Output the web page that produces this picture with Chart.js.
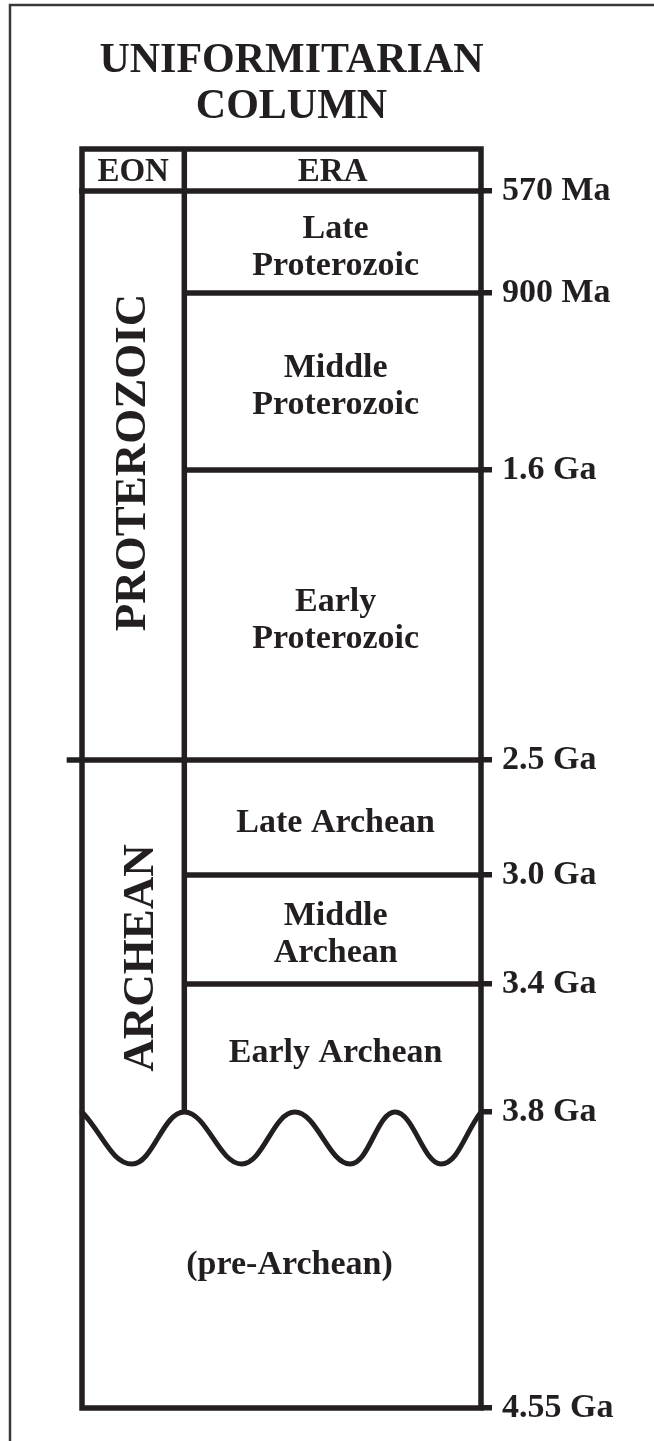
<!DOCTYPE html>
<html>
<head>
<meta charset="utf-8">
<title>Uniformitarian Column</title>
<script src="https://cdn.jsdelivr.net/npm/chart.js@4.4.1/dist/chart.umd.min.js"></script>
<style>
  html,body{margin:0;padding:0;background:#fff;}
  #wrap{position:relative;width:654px;height:1441px;}
</style>
</head>
<body>
<div id="wrap"><canvas id="column"></canvas></div>
<script>
// -------- DATA ----------
// boundaries down the column (position is schematic, the drawing is not to scale)
const boundaryLabels = ['570 Ma','900 Ma','1.6 Ga','2.5 Ga','3.0 Ga','3.4 Ga','3.8 Ga','4.55 Ga'];
const boundaryPos    = [0, 102, 279, 569, 684, 793, 921, 1217];
const boundaryKind   = ['header','era','era','eon','era','era','unconformity','base'];
const headerTop      = -42;

const eraNames = [
  ['Late','Proterozoic'],
  ['Middle','Proterozoic'],
  ['Early','Proterozoic'],
  ['Late Archean'],
  ['Middle','Archean'],
  ['Early Archean'],
  ['(pre-Archean)']
];
const eonNames = ['PROTEROZOIC','ARCHEAN'];
const eonFrom  = [0, 3];   // boundary index where each eon starts
const eonTo    = [3, 6];   // boundary index where each eon ends

// column widths in x units: EON 0..1, ERA 1..3.9
const eonCol = [0, 1];
const eraCol = [1, 3.9];

// unconformity wave (x in column units, y in column position)
const waveX = [0, 0.49, 1, 1.56, 2.08, 2.62, 3.06, 3.51, 3.9];
const waveY = [921, 973, 921, 973, 921, 973, 921, 973, 921];

// -------- STYLE ----------
const ink   = '#231f20';
const serif = '"Liberation Serif", "Times New Roman", Times, serif';
const LW    = 5.5;

// -------- DATASETS ----------
const seg = (pts, extra) => Object.assign({
  data: pts, borderColor: ink, borderWidth: LW, pointRadius: 0,
  tension: 0, clip: false, fill: false,
  borderCapStyle: 'square', borderJoinStyle: 'miter'
}, extra || {});

const left = eonCol[0], right = eraCol[1];
const bottom = boundaryPos[boundaryPos.length - 1];
const datasets = [];

// outline of the column
datasets.push(seg([
  {x:left,y:headerTop},{x:right,y:headerTop},{x:right,y:bottom},{x:left,y:bottom},{x:left,y:headerTop}
]));

// EON | ERA divider, down to the unconformity
const unconf = boundaryPos[boundaryKind.indexOf('unconformity')];
datasets.push(seg([{x:eraCol[0],y:headerTop},{x:eraCol[0],y:unconf}], {borderCapStyle:'butt'}));

// boundary lines
boundaryKind.forEach((k, i) => {
  const y = boundaryPos[i];
  if (k === 'header') datasets.push(seg([{x:left,y},{x:right,y}]));
  if (k === 'era')    datasets.push(seg([{x:eraCol[0],y},{x:right,y}], {borderCapStyle:'butt'}));
  if (k === 'eon')    datasets.push(seg([{x:left-0.15,y},{x:right,y}], {borderCapStyle:'butt'}));
});

// wavy unconformity
datasets.push(seg(waveX.map((x, i) => ({x, y: waveY[i]})), {
  tension: 0.4, borderWidth: 5, borderCapStyle: 'round', borderJoinStyle: 'round'
}));

// -------- TEXT PLUGIN ----------
const columnText = {
  id: 'columnText',
  beforeDraw(chart){
    const {ctx} = chart;
    ctx.save();
    ctx.strokeStyle = '#3a3a3a';
    ctx.lineWidth = 2.5;
    ctx.beginPath();
    ctx.moveTo(10, chart.height);
    ctx.lineTo(10, 5);
    ctx.lineTo(chart.width, 5);
    ctx.stroke();
    ctx.restore();
  },
  afterDatasetsDraw(chart, args, opts){
    const {ctx, chartArea} = chart;
    const xs = chart.scales.x, ys = chart.scales.y;
    ctx.save();
    ctx.fillStyle = ink;
    ctx.textAlign = 'center';
    ctx.textBaseline = 'alphabetic';

    // title
    const tx = (chartArea.left + chartArea.right) / 2 + 10;
    ctx.font = 'bold 42px ' + serif;
    ctx.fillText('UNIFORMITARIAN', tx, 72);
    ctx.fillText('COLUMN', tx, 118);

    // header row
    ctx.font = 'bold 33px ' + serif;
    const hy = (ys.getPixelForValue(headerTop) + ys.getPixelForValue(boundaryPos[0])) / 2 + 11;
    ctx.fillText('EON', xs.getPixelForValue((eonCol[0] + eonCol[1]) / 2), hy);
    ctx.fillText('ERA', xs.getPixelForValue((eraCol[0] + eraCol[1]) / 2), hy);

    // eras
    const size = 34, capH = size * 0.66, lh = 37;
    ctx.font = 'bold ' + size + 'px ' + serif;
    eraNames.forEach((lines, i) => {
      const last = i === eraNames.length - 1;
      const cx = last ? xs.getPixelForValue((left + right) / 2) + 8
                      : xs.getPixelForValue((eraCol[0] + eraCol[1]) / 2) + 3;
      const cy = (ys.getPixelForValue(boundaryPos[i]) + ys.getPixelForValue(boundaryPos[i + 1])) / 2 + 3;
      const blockH = capH + (lines.length - 1) * lh;
      lines.forEach((t, j) => ctx.fillText(t, cx, cy - blockH / 2 + capH + j * lh));
    });

    // eons, written sideways
    const es = 45;
    ctx.font = 'bold ' + es + 'px ' + serif;
    eonNames.forEach((name, i) => {
      const n = opts.eonNudge[i];
      const cx = xs.getPixelForValue((eonCol[0] + eonCol[1]) / 2) + n.dx;
      const cy = (ys.getPixelForValue(boundaryPos[eonFrom[i]]) + ys.getPixelForValue(boundaryPos[eonTo[i]])) / 2 + n.dy;
      ctx.save();
      ctx.translate(cx, cy);
      ctx.rotate(-Math.PI / 2);
      ctx.fillText(name, 0, es * 0.66 / 2);
      ctx.restore();
    });
    ctx.restore();
  }
};

// -------- CHART ----------
new Chart(document.getElementById('column').getContext('2d'), {
  type: 'line',
  data: { datasets },
  options: {
    responsive: true,
    maintainAspectRatio: false,
    animation: false,
    events: [],
    layout: { padding: { left: 82, top: 149, bottom: 33, right: 0 } },
    plugins: {
      legend: { display: false },
      tooltip: { enabled: false },
      columnText: { eonNudge: [{dx:-3, dy:-13}, {dx:5, dy:22}] }
    },
    scales: {
      x: { type: 'linear', display: false, min: left, max: right },
      y: {
        type: 'linear', position: 'right', reverse: true,
        min: headerTop, max: bottom,
        afterBuildTicks: s => { s.ticks = boundaryPos.map(v => ({value: v})); },
        afterFit: s => { s.width = 173; },
        grid: { drawOnChartArea: false, drawTicks: true, tickLength: 11, lineWidth: LW, color: ink, tickColor: ink },
        border: { display: false },
        ticks: {
          autoSkip: false, padding: 10, color: ink,
          font: { family: serif, weight: 'bold', size: 34 },
          callback: (v, i) => boundaryLabels[i]
        }
      }
    }
  },
  plugins: [columnText]
});
</script>
</body>
</html>
